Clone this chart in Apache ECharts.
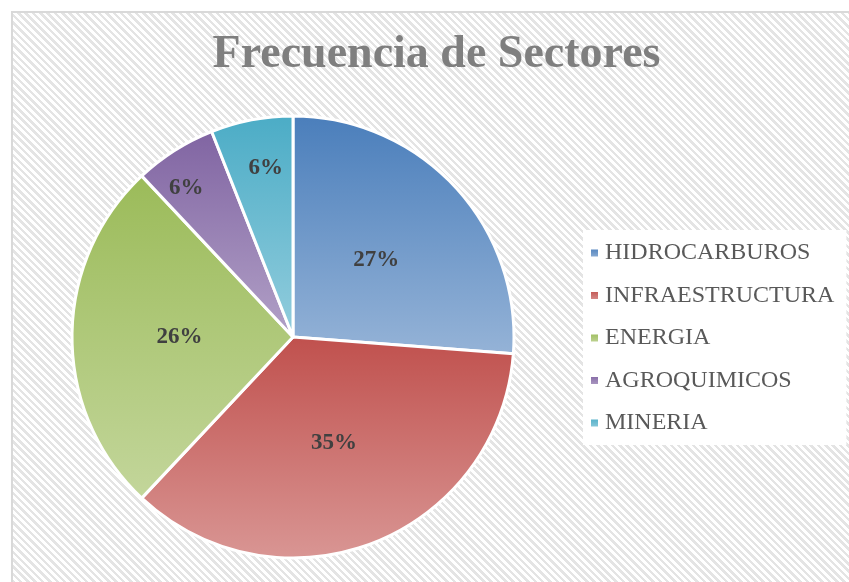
<!DOCTYPE html>
<html>
<head>
<meta charset="utf-8">
<script src="https://cdn.jsdelivr.net/npm/echarts@6/dist/echarts.min.js"></script>
<style>
  html, body { margin: 0; padding: 0; width: 849px; height: 582px; overflow: hidden; background: #fff; }
  .frame {
    position: absolute; left: 11px; top: 11px; width: 900px; height: 600px;
    box-sizing: border-box;
    border: 2px solid #d9d9d9;
    background: repeating-linear-gradient(45deg, #ffffff 0 2.7px, #e4e4e4 2.7px 5.2px);
  }
  #chart { position: absolute; left: 11px; top: 11px; width: 851px; height: 571px; }
</style>
</head>
<body>
<div class="frame"></div>
<div id="chart"></div>
<script>
const categories = ['HIDROCARBUROS', 'INFRAESTRUCTURA', 'ENERGIA', 'AGROQUIMICOS', 'MINERIA']
// slice sizes as drawn (measured from the slice edges)
const sliceValues = [26.2, 35.8, 26, 6, 6]
// percentage labels as printed on the chart
const labelTexts  = ['27%', '35%', '26%', '6%', '6%']
// base colour at the top of each slice, lighter tone at the bottom
const topColors    = ['#4a7ebb', '#c0504d', '#9bbb59', '#8064a2', '#4bacc6']
const bottomColors = ['#95b3d7', '#d99694', '#c3d69b', '#b2a1c7', '#93cddd']

const serif = '"Liberation Serif", "Times New Roman", serif'

// the two thin slices carry their labels further out, as Excel does
const smallSliceLabelOffset = { 3: [-46, -53], 4: [-6, -57] }

function gradient(i) {
  return new echarts.graphic.LinearGradient(0, 0, 0, 1, [
    { offset: 0, color: topColors[i] },
    { offset: 1, color: bottomColors[i] }
  ])
}

const chart = echarts.init(document.getElementById('chart'), null, { renderer: 'canvas' })

chart.setOption({
  backgroundColor: 'transparent',
  animation: false,
  title: {
    text: 'Frecuencia de Sectores',
    left: 'center',
    top: 21,
    padding: 0,
    textStyle: { color: '#7f7f7f', fontSize: 46, fontWeight: 'bold', fontFamily: serif }
  },
  legend: {
    orient: 'vertical',
    left: 572,
    top: 219,
    padding: [11, 12, 10, 6],
    backgroundColor: '#ffffff',
    icon: 'rect',
    itemWidth: 9,
    itemHeight: 9,
    itemGap: 18.5,
    data: categories,
    textStyle: { color: '#595959', fontSize: 24, lineHeight: 24, fontFamily: serif, padding: [0, 0, 0, 1] }
  },
  series: [{
    type: 'pie',
    center: [282, 326],
    radius: 221,
    startAngle: 90,
    clockwise: true,
    silent: true,
    label: {
      position: 'inside',
      formatter: (p) => labelTexts[p.dataIndex],
      color: '#404040',
      fontSize: 23,
      fontWeight: 'bold',
      fontFamily: serif
    },
    labelLine: { show: false },
    itemStyle: { borderColor: '#ffffff', borderWidth: 3 },
    data: categories.map((name, i) => ({
      name,
      value: sliceValues[i],
      itemStyle: { color: gradient(i) },
      label: smallSliceLabelOffset[i] ? { offset: smallSliceLabelOffset[i] } : undefined
    }))
  }]
})
</script>
</body>
</html>
